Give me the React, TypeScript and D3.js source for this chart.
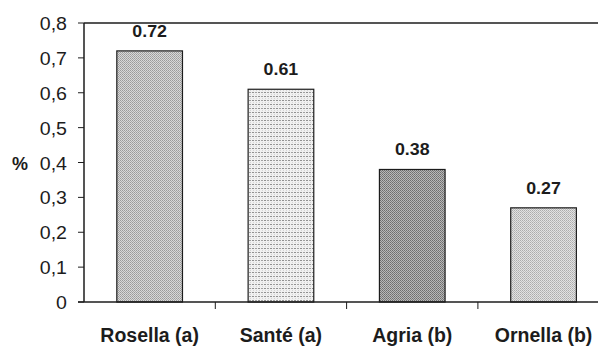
import React from "react";
import * as d3 from "d3";

// Dry matter loss (%) per potato variety
const varieties = ["Rosella (a)", "Santé (a)", "Agria (b)", "Ornella (b)"];
const values = [0.72, 0.61, 0.38, 0.27];
const valueLabels = ["0.72", "0.61", "0.38", "0.27"];
const yTicks = [0, 0.1, 0.2, 0.3, 0.4, 0.5, 0.6, 0.7, 0.8];
const yTickLabels = ["0", "0,1", "0,2", "0,3", "0,4", "0,5", "0,6", "0,7", "0,8"];
const patternIds = ["pRosella", "pSante", "pAgria", "pOrnella"];

const W = 598;
const H = 347;
const FONT = "'Liberation Sans', Arial, Helvetica, sans-serif";
const INK = "#1c1c1c";

export default function App() {
  const x = d3
    .scaleBand<string>()
    .domain(varieties)
    .range([84, 609.2])
    .paddingInner(0.5)
    .paddingOuter(0.25);
  const y = d3.scaleLinear().domain([0, 0.8]).range([302, 23]);
  const step = x.step();
  const x0 = 84;

  return (
    <svg
      width={W}
      height={H}
      style={{ position: "absolute", left: 0, top: 0, background: "#fff" }}
    >
      <defs>
        <pattern id="pRosella" width="2" height="2" patternUnits="userSpaceOnUse">
          <rect width="2" height="2" fill="#d8d8d8" />
          <rect width="1" height="1" fill="#9a9a9a" />
          <rect x="1" y="1" width="1" height="1" fill="#a8a8a8" />
        </pattern>
        <pattern id="pSante" width="6" height="4" patternUnits="userSpaceOnUse">
          <rect width="6" height="4" fill="#f0f0f0" />
          <rect x="0" y="0" width="2" height="1" fill="#909090" />
          <rect x="3" y="0" width="2" height="1" fill="#a0a0a0" />
          <rect x="1" y="2" width="1" height="1" fill="#d4d4d4" />
          <rect x="4" y="2" width="1" height="1" fill="#d4d4d4" />
        </pattern>
        <pattern id="pAgria" width="2" height="2" patternUnits="userSpaceOnUse">
          <rect width="2" height="2" fill="#b8b8b8" />
          <rect width="1" height="1" fill="#6e6e6e" />
          <rect x="1" y="1" width="1" height="1" fill="#7c7c7c" />
        </pattern>
        <pattern id="pOrnella" width="2" height="2" patternUnits="userSpaceOnUse">
          <rect width="2" height="2" fill="#e2e2e2" />
          <rect width="1" height="1" fill="#acacac" />
          <rect x="1" y="1" width="1" height="1" fill="#bcbcbc" />
        </pattern>
      </defs>

      {/* bars */}
      {varieties.map((v, i) => (
        <rect
          key={v}
          x={x(v)}
          y={y(values[i])}
          width={x.bandwidth()}
          height={y(0) - y(values[i])}
          fill={`url(#${patternIds[i]})`}
          stroke={INK}
          strokeWidth={1.2}
        />
      ))}

      {/* value labels */}
      {varieties.map((v, i) => {
        const cx = (x(v) as number) + x.bandwidth() / 2;
        return (
          <g key={v} transform={`translate(${cx},${y(values[i]) - 14}) scale(1.08,1)`}>
            <text
              textAnchor="middle"
              fontFamily={FONT}
              fontWeight="bold"
              fontSize={16.5}
              fill={INK}
            >
              {valueLabels[i]}
            </text>
          </g>
        );
      })}

      {/* frame: top line, left axis, bottom axis */}
      <line x1={x0} x2={W} y1={y(0.8)} y2={y(0.8)} stroke={INK} strokeWidth={1.5} />
      <line x1={x0} x2={x0} y1={y(0.8)} y2={y(0)} stroke={INK} strokeWidth={1.5} />
      <line x1={x0 - 6} x2={W} y1={y(0)} y2={y(0)} stroke={INK} strokeWidth={1.5} />

      {/* y ticks */}
      {yTicks.map((t, i) => (
        <g key={t}>
          <line x1={x0 - 6} x2={x0} y1={y(t)} y2={y(t)} stroke={INK} strokeWidth={1} />
          <g transform={`translate(67,${y(t) + 7}) scale(1.12,1)`}>
            <text textAnchor="end" fontFamily={FONT} fontSize={17.5} fill={INK}>
              {yTickLabels[i]}
            </text>
          </g>
        </g>
      ))}

      {/* x ticks between categories */}
      {d3.range(1, varieties.length).map((k) => (
        <line
          key={k}
          x1={x0 + k * step}
          x2={x0 + k * step}
          y1={y(0)}
          y2={y(0) + 7}
          stroke={INK}
          strokeWidth={1}
        />
      ))}

      {/* category labels */}
      {varieties.map((v) => (
        <text
          key={v}
          x={(x(v) as number) + x.bandwidth() / 2}
          y={342}
          textAnchor="middle"
          fontFamily={FONT}
          fontWeight="bold"
          fontSize={19.5}
          fill={INK}
        >
          {v}
        </text>
      ))}

      {/* y-axis title */}
      <text x={12} y={170} fontFamily={FONT} fontWeight="bold" fontSize={18} fill={INK}>
        %
      </text>
    </svg>
  );
}
